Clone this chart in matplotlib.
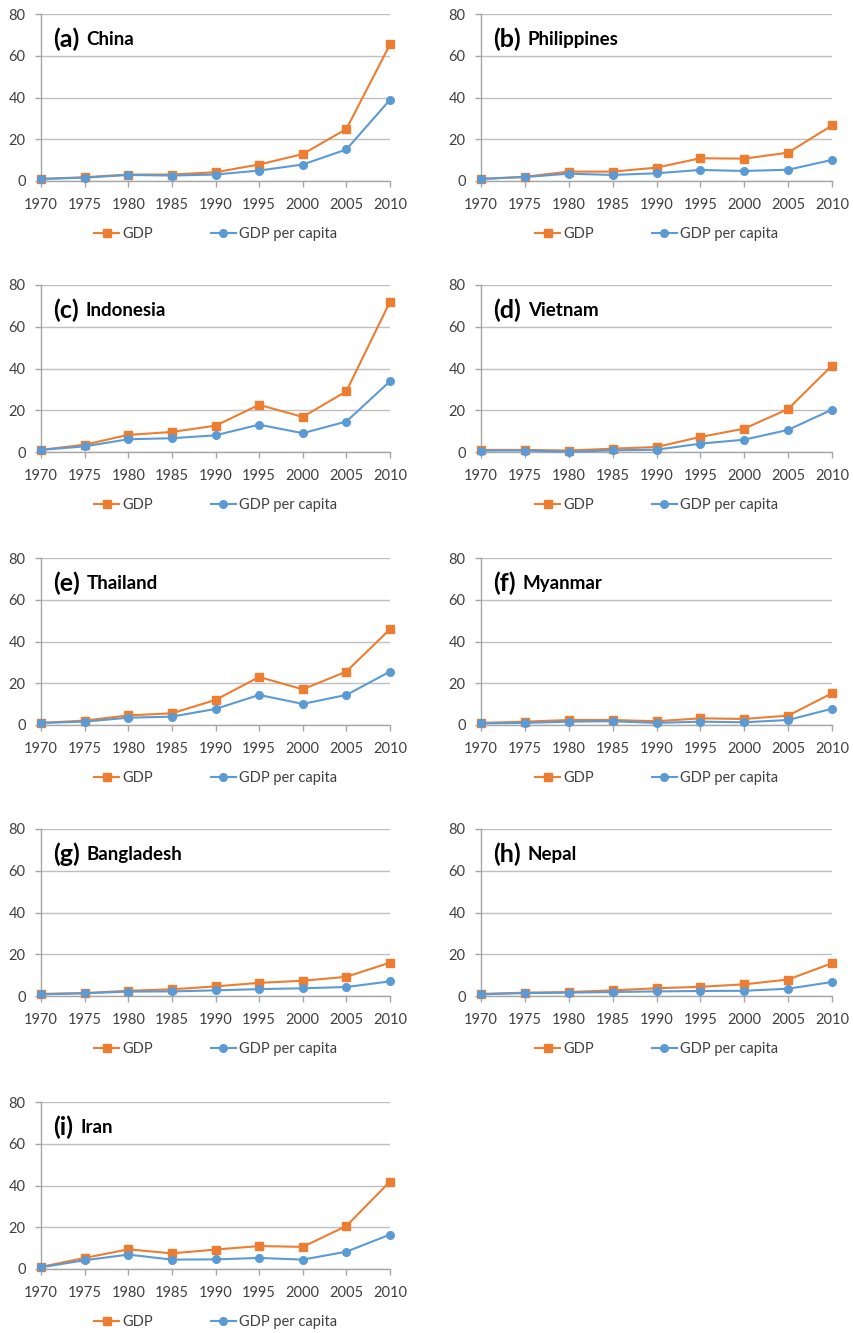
import matplotlib
matplotlib.use("Agg")
import matplotlib.pyplot as plt

plt.rcParams['font.family'] = ['Lato', 'DejaVu Sans']

years = [1970, 1975, 1980, 1985, 1990, 1995, 2000, 2005, 2010]

panels = ['(a)', '(b)', '(c)', '(d)', '(e)', '(f)', '(g)', '(h)', '(i)']
countries = ['China', 'Philippines', 'Indonesia', 'Vietnam', 'Thailand',
             'Myanmar', 'Bangladesh', 'Nepal', 'Iran']

# GDP and GDP per capita, relative to 1970
gdp_china = [1, 1.8, 3.1, 3.1, 4.2, 7.9, 12.9, 24.9, 65.4]
pc_china = [1, 1.6, 2.9, 2.6, 3.1, 5.0, 7.9, 15.1, 38.9]

gdp_phil = [1, 2.0, 4.5, 4.5, 6.4, 10.9, 10.7, 13.6, 26.6]
pc_phil = [1, 1.9, 3.5, 2.9, 3.7, 5.3, 4.8, 5.4, 10.1]

gdp_indo = [1, 3.5, 8.2, 9.6, 12.6, 22.6, 16.8, 29.1, 72.0]
pc_indo = [1, 2.7, 6.1, 6.6, 8.0, 13.1, 9.0, 14.6, 33.9]

gdp_viet = [1, 1.0, 0.7, 1.6, 2.4, 7.2, 11.2, 20.6, 41.4]
pc_viet = [0.7, 0.7, 0.1, 0.8, 1.1, 4.0, 5.9, 10.6, 20.3]

gdp_thai = [1, 2.1, 4.6, 5.6, 12.0, 23.0, 17.1, 25.6, 45.9]
pc_thai = [1, 1.6, 3.5, 4.0, 7.7, 14.4, 10.1, 14.4, 25.6]

gdp_myan = [1, 1.6, 2.4, 2.4, 1.8, 3.2, 2.9, 4.5, 15.2]
pc_myan = [0.8, 1.0, 1.6, 1.8, 1.0, 1.6, 1.3, 2.4, 7.8]

gdp_bang = [1, 1.4, 2.5, 3.2, 4.6, 6.3, 7.3, 9.2, 16.0]
pc_bang = [0.8, 1.3, 2.1, 2.2, 2.7, 3.3, 3.7, 4.3, 7.0]

gdp_nepal = [1, 1.6, 1.9, 2.7, 3.7, 4.4, 5.6, 7.9, 15.7]
pc_nepal = [0.8, 1.4, 1.6, 1.9, 2.2, 2.4, 2.5, 3.5, 6.7]

gdp_iran = [1, 5.3, 9.4, 7.5, 9.3, 11.0, 10.6, 20.6, 41.9]
pc_iran = [0.8, 4.2, 6.9, 4.5, 4.6, 5.3, 4.5, 8.3, 16.5]

gdp_all = [gdp_china, gdp_phil, gdp_indo, gdp_viet, gdp_thai,
           gdp_myan, gdp_bang, gdp_nepal, gdp_iran]
pc_all = [pc_china, pc_phil, pc_indo, pc_viet, pc_thai,
          pc_myan, pc_bang, pc_nepal, pc_iran]

orange = '#ED7D31'
blue = '#5B9BD5'
grey = '#A6A6A6'
W, H = 854, 1333

fig = plt.figure(figsize=(W / 100, H / 100), dpi=100)

lefts = [41, 481]
widths = [349, 351]
tops = [14, 285, 558, 829, 1102]
ax_h = 167

for i in range(9):
    row, col = divmod(i, 2)
    x0 = lefts[col]
    y0 = tops[row] + ax_h
    ax = fig.add_axes([x0 / W, 1 - y0 / H, widths[col] / W, ax_h / H])

    ax.plot(years, gdp_all[i], color=orange, lw=1.5, marker='s', ms=5.5,
            clip_on=False, zorder=3, label='GDP')
    ax.plot(years, pc_all[i], color=blue, lw=1.5, marker='o', ms=5.5,
            clip_on=False, zorder=4, label='GDP per capita')

    ax.set_xlim(1970, 2010)
    ax.set_ylim(0, 80)
    ax.set_xticks(years)
    ax.set_yticks([0, 20, 40, 60, 80])
    ax.grid(axis='y', color='#BFBFBF', lw=1)
    ax.set_axisbelow(True)
    for s in ['top', 'right']:
        ax.spines[s].set_visible(False)
    for s in ['left', 'bottom']:
        ax.spines[s].set_color(grey)
        ax.spines[s].set_linewidth(1)
    ax.tick_params(axis='both', colors=grey, length=4, width=1,
                   labelcolor='#404040', labelsize=10.5)
    ax.tick_params(axis='x', pad=8)
    ax.tick_params(axis='y', pad=7)

    # panel letter, then country name right after it
    t = ax.text(0.035, 0.85, panels[i], transform=ax.transAxes, fontsize=18,
                fontweight='bold', va='center', ha='left')
    ax.annotate(countries[i], xy=(1, 0.5), xycoords=t, xytext=(5, 0),
                textcoords='offset points', fontsize=13.5, fontweight='bold',
                va='center', ha='left')

    ax.legend(loc='center', bbox_to_anchor=(0.5, -0.32), ncol=2,
              frameon=False, fontsize=10.5, handlelength=1.7,
              handletextpad=0.2, columnspacing=4, labelcolor='#404040')

fig.savefig('out.png', dpi=100)
